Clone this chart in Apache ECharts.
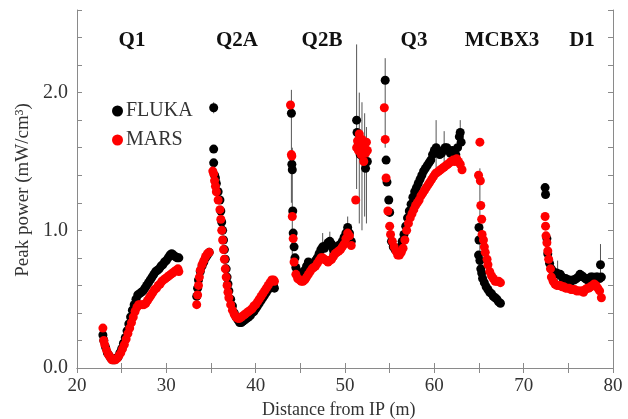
<!DOCTYPE html>
<html>
<head>
<meta charset="utf-8">
<script src="https://cdn.jsdelivr.net/npm/echarts@6/dist/echarts.min.js"></script>
<style>
  html, body { margin: 0; padding: 0; background: #fff; }
  #chart { width: 628px; height: 419px; }
</style>
</head>
<body>
<div id="chart"></div>
<script>
// magnet names shown along the top
var magnets = ['Q1', 'Q2A', 'Q2B', 'Q3', 'MCBX3', 'D1'];
var magnetPos = [132, 237, 322, 414, 502, 582];

var xTicks = [20, 30, 40, 50, 60, 70, 80];
var yTicks = [0.0, 1.0, 2.0];

// FLUKA, [distance m, peak power mW/cm3]
var flukaQ1 = [[22.9,0.24],[23.0,0.20],[23.2,0.15],[23.4,0.11],[23.6,0.09],[23.8,0.07],[24.0,0.06],[24.2,0.06],[24.4,0.07],[24.6,0.08],[24.8,0.11],[25.0,0.14],[25.2,0.18],[25.4,0.22],[25.6,0.27],[25.8,0.32],[26.0,0.37],[26.2,0.42],[26.4,0.46],[26.6,0.50],[26.8,0.53],[27.0,0.54],[27.2,0.55],[27.4,0.56],[27.6,0.58],[27.8,0.60],[28.0,0.62],[28.2,0.64],[28.4,0.66],[28.6,0.68],[28.8,0.70],[29.0,0.71],[29.2,0.72],[29.4,0.74],[29.6,0.75],[29.8,0.77],[30.0,0.78],[30.2,0.80],[30.4,0.82],[30.6,0.83],[30.8,0.82],[31.0,0.81],[31.2,0.80],[31.4,0.80]];
var flukaQ2A = [[33.4,0.52],[33.5,0.58],[33.6,0.64],[33.8,0.70],[34.0,0.74],[34.2,0.77],[34.4,0.80],[34.6,0.82],[34.8,0.84],[35.3,1.89],[35.3,1.59],[35.3,1.49],[35.4,1.40],[35.5,1.38],[35.6,1.34],[35.8,1.28],[36.0,1.22],[36.1,1.14],[36.2,1.06],[36.3,1.00],[36.4,0.93],[36.5,0.86],[36.6,0.79],[36.7,0.72],[36.8,0.66],[36.9,0.61],[37.0,0.56],[37.2,0.50],[37.4,0.45],[37.6,0.40],[37.8,0.37],[38.0,0.35],[38.2,0.33],[38.4,0.33],[38.6,0.34],[38.8,0.35],[39.0,0.36],[39.2,0.37],[39.4,0.38],[39.6,0.40],[39.8,0.41],[40.0,0.43],[40.2,0.45],[40.4,0.47],[40.6,0.49],[40.8,0.51],[41.0,0.53],[41.2,0.55],[41.4,0.57],[41.6,0.59],[41.8,0.60],[42.0,0.60],[42.1,0.58]];
var flukaQ2B = [[44.0,1.85],[44.05,1.48],[44.1,1.44],[44.15,1.14],[44.2,0.98],[44.3,0.88],[44.4,0.80],[44.5,0.73],[44.7,0.70],[44.9,0.68],[45.1,0.68],[45.3,0.69],[45.5,0.71],[45.7,0.74],[45.9,0.77],[46.1,0.76],[46.3,0.74],[46.5,0.76],[46.7,0.78],[46.9,0.80],[47.1,0.83],[47.3,0.86],[47.5,0.88],[47.7,0.87],[47.9,0.89],[48.1,0.91],[48.3,0.92],[48.5,0.90],[48.7,0.86],[48.9,0.84],[49.1,0.87],[49.3,0.89],[49.5,0.90],[49.7,0.92],[49.9,0.95],[50.1,0.98],[50.3,1.02],[50.5,0.98],[50.7,0.92],[51.3,1.80],[51.35,1.71],[51.5,1.63],[51.7,1.55],[51.9,1.60],[52.1,1.52],[52.3,1.45],[52.5,1.50]];
var flukaQ3 = [[54.5,2.09],[54.6,1.51],[54.7,1.35],[54.9,1.22],[55.0,1.13],[55.2,0.92],[55.4,0.88],[55.6,0.86],[55.8,0.85],[56.0,0.86],[56.2,0.88],[56.4,0.92],[56.6,0.97],[56.8,1.03],[57.0,1.09],[57.2,1.14],[57.4,1.19],[57.6,1.24],[57.8,1.28],[58.0,1.31],[58.2,1.34],[58.4,1.37],[58.6,1.40],[58.8,1.43],[59.0,1.45],[59.2,1.47],[59.4,1.49],[59.6,1.51],[59.8,1.55],[60.0,1.58],[60.2,1.60],[60.4,1.57],[60.6,1.55],[60.8,1.56],[61.0,1.58],[61.2,1.60],[61.4,1.60],[61.6,1.58],[61.8,1.56],[62.0,1.58],[62.2,1.56],[62.4,1.55],[62.6,1.60],[62.8,1.68],[62.9,1.71],[63.0,1.64]];
var flukaMCBX3 = [[65.0,1.02],[65.0,0.93],[64.95,0.82],[65.1,0.78],[65.2,0.72],[65.3,0.69],[65.4,0.65],[65.6,0.62],[65.8,0.59],[66.0,0.57],[66.2,0.55],[66.4,0.54],[66.6,0.52],[66.8,0.51],[67.0,0.50],[67.2,0.48],[67.4,0.47]];
var flukaD1 = [[72.4,1.31],[72.45,1.26],[72.6,0.94],[72.7,0.83],[72.9,0.76],[73.1,0.72],[73.3,0.70],[73.5,0.69],[73.7,0.69],[73.9,0.68],[74.1,0.68],[74.3,0.66],[74.5,0.65],[74.7,0.65],[74.9,0.64],[75.1,0.64],[75.3,0.63],[75.5,0.64],[75.7,0.64],[75.9,0.65],[76.1,0.66],[76.3,0.68],[76.5,0.67],[76.7,0.66],[76.9,0.65],[77.1,0.64],[77.3,0.65],[77.5,0.66],[77.7,0.66],[77.9,0.65],[78.1,0.66],[78.3,0.66],[78.5,0.65],[78.6,0.75],[78.7,0.66]];

// MARS
var marsQ1 = [[22.9,0.29],[23.0,0.20],[23.1,0.17],[23.3,0.13],[23.5,0.10],[23.7,0.08],[23.9,0.06],[24.1,0.06],[24.3,0.06],[24.5,0.07],[24.7,0.09],[24.9,0.11],[25.1,0.14],[25.3,0.17],[25.5,0.21],[25.7,0.25],[25.9,0.29],[26.1,0.33],[26.3,0.37],[26.5,0.41],[26.7,0.44],[26.9,0.46],[27.1,0.46],[27.3,0.46],[27.5,0.46],[27.7,0.47],[27.9,0.49],[28.1,0.51],[28.3,0.53],[28.5,0.55],[28.7,0.57],[28.9,0.58],[29.1,0.60],[29.3,0.61],[29.5,0.63],[29.7,0.64],[29.9,0.65],[30.1,0.66],[30.3,0.67],[30.5,0.68],[30.7,0.69],[30.9,0.70],[31.1,0.71],[31.3,0.72],[31.4,0.70]];
var marsQ2A = [[33.4,0.46],[33.5,0.53],[33.6,0.60],[33.7,0.66],[33.8,0.71],[34.0,0.75],[34.2,0.78],[34.4,0.81],[34.6,0.83],[34.8,0.84],[35.2,1.43],[35.3,1.41],[35.4,1.36],[35.5,1.32],[35.6,1.28],[35.8,1.22],[36.0,1.15],[36.1,1.08],[36.2,1.00],[36.3,0.93],[36.4,0.86],[36.5,0.79],[36.6,0.72],[36.7,0.66],[36.8,0.60],[36.9,0.55],[37.0,0.51],[37.2,0.46],[37.4,0.42],[37.6,0.39],[37.8,0.37],[38.0,0.36],[38.2,0.36],[38.4,0.37],[38.6,0.38],[38.8,0.39],[39.0,0.40],[39.2,0.41],[39.4,0.42],[39.6,0.43],[39.8,0.45],[40.0,0.46],[40.2,0.48],[40.4,0.50],[40.6,0.52],[40.8,0.54],[41.0,0.56],[41.2,0.58],[41.4,0.60],[41.6,0.62],[41.8,0.64],[42.0,0.64],[42.1,0.63]];
var marsQ2B = [[43.9,1.91],[44.0,1.55],[44.05,1.54],[44.1,1.10],[44.2,0.94],[44.3,0.77],[44.5,0.68],[44.7,0.65],[44.9,0.64],[45.1,0.63],[45.3,0.63],[45.5,0.64],[45.7,0.66],[45.9,0.68],[46.1,0.70],[46.3,0.72],[46.5,0.73],[46.7,0.74],[46.9,0.76],[47.1,0.78],[47.3,0.80],[47.5,0.80],[47.7,0.79],[47.9,0.78],[48.1,0.77],[48.3,0.78],[48.5,0.79],[48.7,0.81],[48.9,0.83],[49.1,0.84],[49.3,0.85],[49.5,0.86],[49.7,0.88],[49.9,0.90],[50.1,0.94],[50.3,0.98],[50.5,0.96],[50.7,0.89],[51.2,1.22],[51.3,1.60],[51.4,1.65],[51.5,1.58],[51.6,1.70],[51.7,1.62],[51.8,1.55],[51.9,1.66],[52.0,1.59],[52.1,1.50],[52.2,1.62],[52.3,1.56],[52.4,1.64],[52.5,1.58]];
var marsQ3 = [[54.4,1.89],[54.5,1.66],[54.6,1.38],[54.8,1.14],[55.0,1.03],[55.1,0.97],[55.3,0.92],[55.5,0.88],[55.7,0.85],[55.9,0.82],[56.1,0.82],[56.3,0.84],[56.5,0.87],[56.7,0.93],[56.9,1.00],[57.1,1.05],[57.3,1.09],[57.5,1.12],[57.7,1.15],[57.9,1.18],[58.1,1.20],[58.3,1.22],[58.5,1.25],[58.7,1.27],[58.9,1.29],[59.1,1.31],[59.3,1.33],[59.5,1.35],[59.7,1.37],[59.9,1.39],[60.1,1.41],[60.3,1.42],[60.5,1.43],[60.7,1.44],[60.9,1.45],[61.1,1.46],[61.3,1.47],[61.5,1.48],[61.7,1.49],[61.9,1.50],[62.1,1.51],[62.3,1.50],[62.5,1.52],[62.7,1.50],[62.9,1.48],[63.1,1.44]];
var marsMCBX3 = [[65.1,1.64],[64.95,1.40],[65.15,1.36],[65.2,1.18],[65.3,1.08],[65.35,0.97],[65.5,0.93],[65.6,0.88],[65.7,0.84],[65.9,0.79],[66.0,0.75],[66.2,0.70],[66.4,0.67],[66.6,0.65],[66.8,0.63],[67.0,0.63],[67.2,0.63],[67.4,0.62]];
var marsD1 = [[72.4,1.10],[72.45,1.03],[72.5,0.96],[72.6,0.91],[72.7,0.85],[72.8,0.79],[73.0,0.72],[73.1,0.66],[73.3,0.63],[73.5,0.61],[73.7,0.60],[73.9,0.60],[74.1,0.60],[74.3,0.59],[74.5,0.59],[74.7,0.58],[74.9,0.58],[75.1,0.58],[75.3,0.57],[75.5,0.57],[75.7,0.57],[75.9,0.56],[76.1,0.56],[76.3,0.56],[76.5,0.56],[76.7,0.55],[76.9,0.57],[77.1,0.58],[77.3,0.58],[77.5,0.59],[77.7,0.60],[77.9,0.61],[78.1,0.60],[78.3,0.58],[78.5,0.56],[78.7,0.51]];

// error bars [x, low, high]
var errBars = [[35.3,1.85,1.93],[44.0,1.2,2.02],[44.1,0.8,1.6],[47.5,0.8,0.98],[48.3,0.82,0.99],[50.3,0.95,1.1],
  [51.3,1.3,2.35],[51.6,1.05,2.0],[51.9,1.0,1.93],[52.2,1.1,1.85],[52.4,1.05,1.75],
  [54.5,1.6,2.25],[60.2,1.45,1.8],[61.1,1.45,1.72],[62.9,1.6,1.8],[65.1,0.85,1.45],
  [73.8,0.62,0.78],[78.6,0.65,0.9]];

var fluka = [].concat(flukaQ1, flukaQ2A, flukaQ2B, flukaQ3, flukaMCBX3, flukaD1);
var mars = [].concat(marsQ1, marsQ2A, marsQ2B, marsQ3, marsMCBX3, marsD1);

var serif = '"Liberation Serif", "DejaVu Serif", serif';
var axisGray = '#8a8a8a';

var myChart = echarts.init(document.getElementById('chart'));

function isTick(list, v) {
    for (var i = 0; i < list.length; i++) {
        if (Math.abs(list[i] - v) < 1e-6) return true;
    }
    return false;
}

var baseAxis = {
    axisLine: {lineStyle: {color: axisGray, width: 1}},
    axisTick: {inside: true, length: 5, lineStyle: {color: axisGray}},
    splitLine: {show: false}
};

myChart.setOption({
    animation: false,
    backgroundColor: '#fff',
    grid: {left: 77, right: 15, top: 10, bottom: 51},
    legend: {
        orient: 'vertical',
        left: 107,
        top: 96,
        itemWidth: 11,
        itemHeight: 11,
        itemGap: 9,
        icon: 'circle',
        data: ['FLUKA', 'MARS'],
        textStyle: {fontFamily: serif, fontSize: 20, color: '#333', padding: [0, 0, 0, -2]}
    },
    xAxis: [
        Object.assign({}, baseAxis, {
            type: 'value', min: 20, max: 80, interval: 5, position: 'bottom',
            axisLabel: {
                fontFamily: serif, fontSize: 19, color: '#333', margin: 9,
                formatter: function (v) { return isTick(xTicks, v) ? String(v) : ''; }
            }
        }),
        Object.assign({}, baseAxis, {
            type: 'value', min: 20, max: 80, interval: 5, position: 'top',
            axisLabel: {show: false}
        })
    ],
    yAxis: [
        Object.assign({}, baseAxis, {
            type: 'value', min: 0, max: 2.6, interval: 0.2, position: 'left',
            axisLabel: {
                fontFamily: serif, fontSize: 20, color: '#333', margin: 9,
                formatter: function (v) { return isTick(yTicks, v) ? v.toFixed(1) : ''; }
            }
        }),
        Object.assign({}, baseAxis, {
            type: 'value', min: 0, max: 2.6, interval: 0.2, position: 'right',
            axisLabel: {show: false}
        })
    ],
    graphic: [
        {
            type: 'text', left: 262, top: 401,
            style: {text: 'Distance from IP (m)', font: '18px ' + serif, fill: '#333'}
        },
        {
            type: 'text', x: 23, y: 190, rotation: Math.PI / 2, originX: 0, originY: 0,
            style: {text: 'Peak power (mW/cm³)', font: '19px ' + serif, fill: '#333',
                    align: 'center', verticalAlign: 'middle'}
        }
    ].concat(magnets.map(function (m, i) {
        return {
            type: 'text', x: magnetPos[i], y: 41,
            style: {text: m, font: 'bold 21px ' + serif, fill: '#111',
                    align: 'center', verticalAlign: 'middle'}
        };
    })),
    series: [
        {
            type: 'custom',
            name: 'err',
            silent: true,
            z: 1,
            renderItem: function (params, api) {
                var top = api.coord([api.value(0), api.value(2)]);
                var bot = api.coord([api.value(0), api.value(1)]);
                return {
                    type: 'line',
                    shape: {x1: top[0], y1: top[1], x2: bot[0], y2: bot[1]},
                    style: {stroke: '#555', lineWidth: 1}
                };
            },
            encode: {x: 0, y: [1, 2]},
            data: errBars
        },
        {
            name: 'FLUKA',
            type: 'scatter',
            symbolSize: 9,
            z: 2,
            itemStyle: {color: '#000', opacity: 1},
            data: fluka
        },
        {
            name: 'MARS',
            type: 'scatter',
            symbolSize: 9,
            z: 3,
            itemStyle: {color: '#f00', opacity: 1},
            data: mars
        }
    ]
});
</script>
</body>
</html>
